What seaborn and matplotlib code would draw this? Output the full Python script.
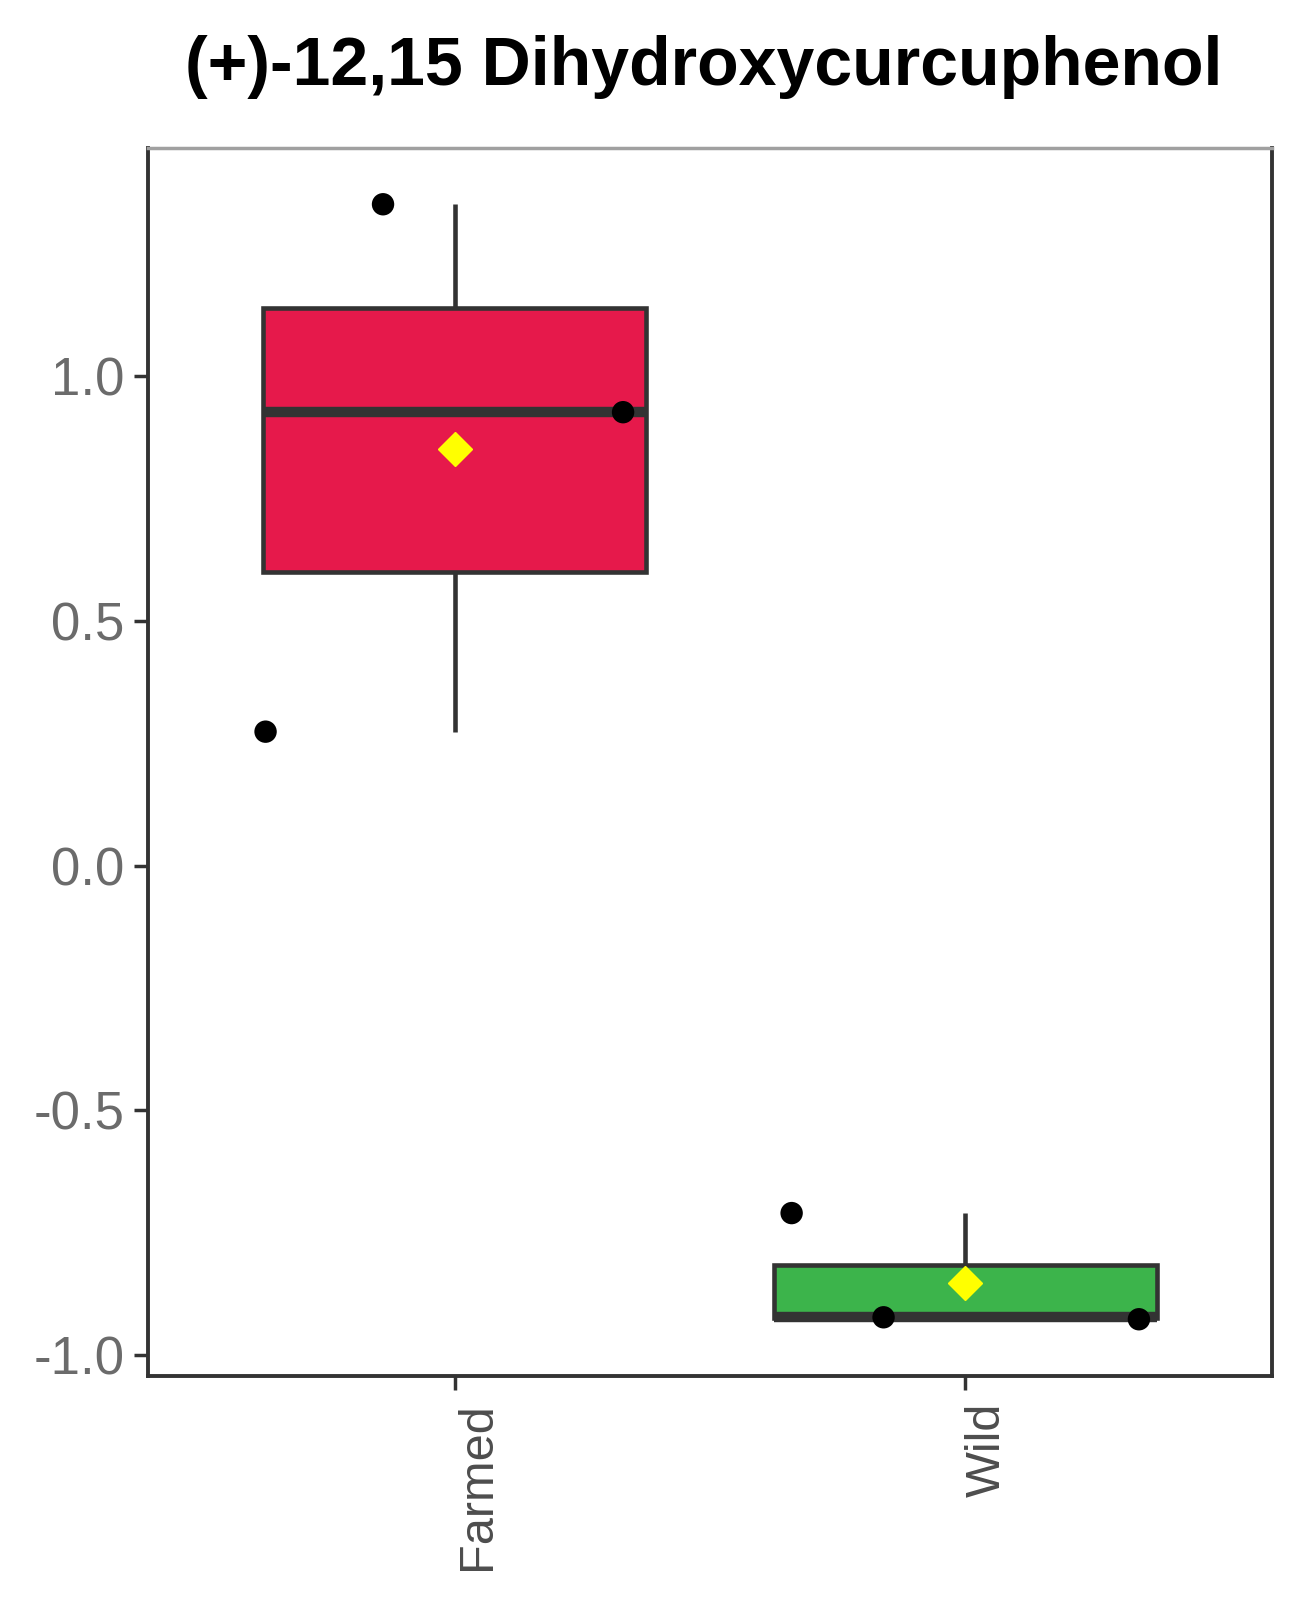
import numpy as np
import pandas as pd
import matplotlib.pyplot as plt
import seaborn as sns

# values (normalized concentration)
groups = ["Farmed", "Farmed", "Farmed", "Wild", "Wild", "Wild"]
values = [1.352, 0.274, 0.927, -0.710, -0.923, -0.927]
# horizontal jitter of each sample in category units
jitter = [-0.14, -0.37, 0.33, -0.34, -0.16, 0.34]
order = ["Farmed", "Wild"]
colors = ["#E6194B", "#3CB44B"]
yticks = [-1.0, -0.5, 0.0, 0.5, 1.0]
ytick_labels = ["-1.0", "-0.5", "0.0", "0.5", "1.0"]
title = "(+)-12,15 Dihydroxycurcuphenol"

df = pd.DataFrame({"group": groups, "value": values, "jitter": jitter})
df["xpos"] = df["group"].map({g: i for i, g in enumerate(order)}) + df["jitter"]

sns.set_style("white")
plt.rcParams["font.family"] = ["Liberation Sans", "DejaVu Sans"]

fig = plt.figure(figsize=(12.99, 16), dpi=100)
ax = fig.add_axes([0.114, 0.14, 0.865, 0.7675])

edge = "#333333"
sns.boxplot(data=df, x="group", y="value", hue="group", order=order,
            hue_order=order, palette=colors, legend=False, width=0.75,
            whis=np.inf, showfliers=False, showcaps=False, saturation=1,
            linecolor=edge, linewidth=3.3,
            medianprops=dict(linewidth=7.5, color=edge, solid_capstyle="butt"),
            showmeans=True,
            meanprops=dict(marker="D", markerfacecolor="#FFFF00",
                           markeredgecolor="#FFFF00", markersize=17),
            ax=ax)

# jittered samples on top
sns.scatterplot(data=df, x="xpos", y="value", color="black", s=260,
                edgecolor="none", zorder=5, legend=False, ax=ax)

ax.set_xlim(-0.6, 1.6)
ax.set_ylim(-1.043, 1.467)
ax.set_yticks(yticks, ytick_labels)
ax.set_xticks([0, 1], order, rotation=90)
for lbl in ax.get_xticklabels():
    lbl.set_ha("left")
    lbl.set_va("top")
ax.set_xlabel("")
ax.set_ylabel("")

ax.tick_params(axis="y", length=10, width=2.5, color=edge, pad=7,
               labelsize=38, labelcolor="#6b6b6b", left=True)
ax.tick_params(axis="x", length=10, width=2.5, color=edge, pad=9,
               labelsize=35, labelcolor="#4d4d4d", bottom=True)

for side in ["left", "bottom", "right"]:
    ax.spines[side].set_color(edge)
    ax.spines[side].set_linewidth(2.8)
ax.spines["top"].set_color("#a0a0a0")
ax.spines["top"].set_linewidth(2.5)

fig.text(0.542, 0.958, title, ha="center", va="center",
         fontsize=49, fontweight="bold", color="black")

fig.savefig("out.png", dpi=100, facecolor="white")
